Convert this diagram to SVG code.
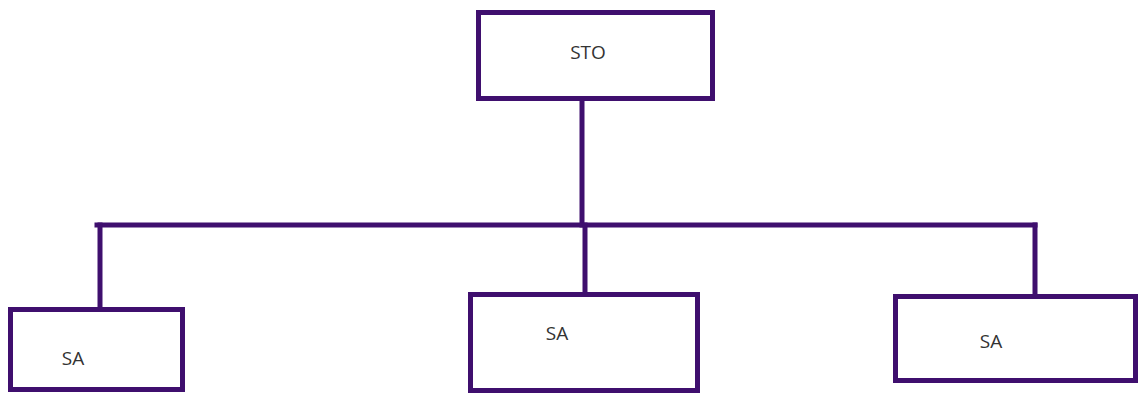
<svg xmlns="http://www.w3.org/2000/svg" width="1140" height="394" viewBox="0 0 1140 394">
<style>
.box{fill:#fff;stroke:#3f0f6e;stroke-width:5}
.ln{fill:none;stroke:#3f0f6e;stroke-width:5;stroke-linecap:square}
.t{font-family:"Open Sans","Liberation Sans",sans-serif;font-size:19px;fill:#333}
</style>
<rect width="1140" height="394" fill="#fff"/>
<g id="connectors">
<line class="ln" x1="582" y1="101" x2="582" y2="225"/>
<line class="ln" x1="97" y1="225" x2="1035" y2="225"/>
<line class="ln" x1="100" y1="225" x2="100" y2="308"/>
<line class="ln" x1="585" y1="225" x2="585" y2="293"/>
<line class="ln" x1="1035" y1="225" x2="1035" y2="295"/>
</g>
<g id="sto">
<rect class="box" x="478.5" y="12.5" width="234" height="86"/>
<text class="t" x="588" y="59" text-anchor="middle">STO</text>
</g>
<g id="sa1">
<rect class="box" x="10.5" y="309.5" width="172" height="80"/>
<text class="t" x="73" y="365" text-anchor="middle">SA</text>
</g>
<g id="sa2">
<rect class="box" x="470.5" y="294.5" width="227" height="96"/>
<text class="t" x="557" y="340" text-anchor="middle">SA</text>
</g>
<g id="sa3">
<rect class="box" x="895.5" y="296.5" width="240" height="84"/>
<text class="t" x="991" y="348" text-anchor="middle">SA</text>
</g>
</svg>
